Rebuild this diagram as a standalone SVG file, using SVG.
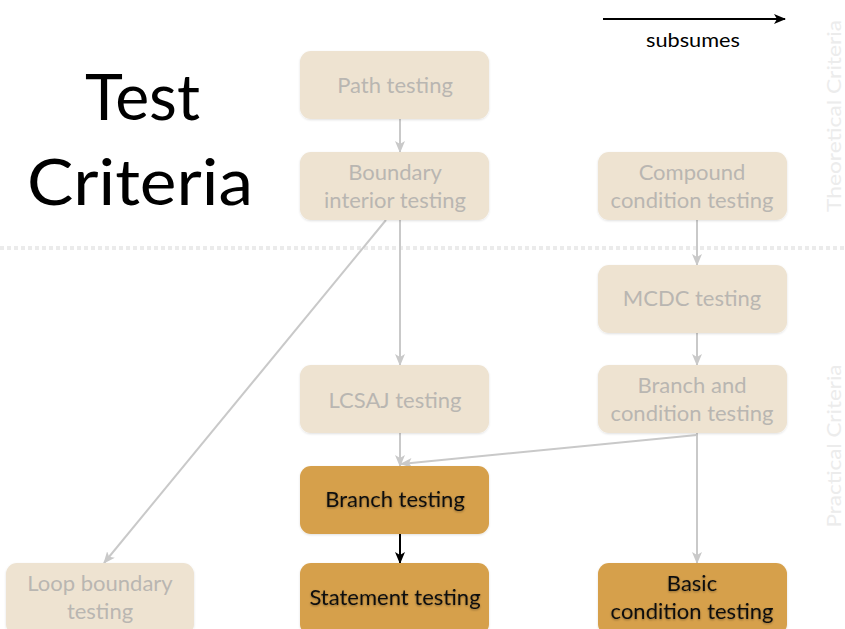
<svg xmlns="http://www.w3.org/2000/svg" width="845" height="629" viewBox="0 0 845 629">
  <defs>
    <style>
      .box { fill: #eee3d1; }
      .box-on { fill: #d6a04b; }
      .lbl { font-family: "Lato", "Open Sans", sans-serif; font-size: 22px; fill: #b9b6b1; text-anchor: middle; }
      .lbl-on { font-family: "Lato", "Open Sans", sans-serif; font-size: 22px; fill: #111; text-anchor: middle; }
      .edge { stroke: #c9c9c9; stroke-width: 2; fill: none; marker-end: url(#headGrey); }
      .edge-on { stroke: #000; stroke-width: 2; fill: none; marker-end: url(#headBlack); }
      .title { font-family: "Lato", "Open Sans", sans-serif; font-size: 64px; fill: #000; }
      .side { font-family: "Lato", "Open Sans", sans-serif; font-size: 20px; fill: #ececec; text-anchor: middle; }
    </style>
    <marker id="headGrey" viewBox="0 0 12 12" refX="11" refY="6" markerWidth="12" markerHeight="12" markerUnits="userSpaceOnUse" orient="auto">
      <path d="M0,1 L12,6 L0,11 L3,6 Z" fill="#c9c9c9"/>
    </marker>
    <marker id="headBlack" viewBox="0 0 12 12" refX="11" refY="6" markerWidth="12" markerHeight="12" markerUnits="userSpaceOnUse" orient="auto">
      <path d="M0,1 L12,6 L0,11 L3,6 Z" fill="#000"/>
    </marker>
    <filter id="soft" x="-5%" y="-5%" width="110%" height="115%">
      <feDropShadow dx="0" dy="1" stdDeviation="1" flood-color="#000" flood-opacity="0.12"/>
    </filter>
    <filter id="glow" x="-5%" y="-20%" width="110%" height="140%">
      <feDropShadow dx="0" dy="1" stdDeviation="1" flood-color="#000" flood-opacity="0.35"/>
    </filter>
  </defs>

  <rect width="845" height="629" fill="#fff"/>

  <!-- divider between theoretical and practical criteria -->
  <line x1="0" y1="248" x2="845" y2="248" stroke="#ebebeb" stroke-width="4" stroke-dasharray="4,3"/>

  <!-- side captions -->
  <text class="side" transform="translate(841,116) rotate(-90)" textLength="192" lengthAdjust="spacingAndGlyphs">Theoretical Criteria</text>
  <text class="side" transform="translate(841,446) rotate(-90)" textLength="163" lengthAdjust="spacingAndGlyphs">Practical Criteria</text>

  <!-- heading -->
  <text class="title" x="85" y="120" textLength="115" lengthAdjust="spacingAndGlyphs">Test</text>
  <text class="title" x="27" y="205" textLength="226" lengthAdjust="spacingAndGlyphs">Criteria</text>

  <!-- legend -->
  <g id="legend">
    <line x1="603" y1="19" x2="785" y2="19" stroke="#000" stroke-width="2" marker-end="url(#headBlack)"/>
    <text x="693" y="47" font-family="Lato, 'Open Sans', sans-serif" font-size="19" text-anchor="middle" fill="#000" textLength="94" lengthAdjust="spacingAndGlyphs">subsumes</text>
  </g>

  <!-- connectors -->
  <g id="connectors">
    <line class="edge" x1="400" y1="119" x2="400" y2="152"/>
    <line class="edge" x1="400" y1="220" x2="400" y2="365"/>
    <line class="edge" x1="386" y1="220" x2="104" y2="563"/>
    <line class="edge" x1="400" y1="433" x2="400" y2="466"/>
    <line class="edge" x1="697" y1="435" x2="401" y2="464"/>
    <line class="edge" x1="697" y1="220" x2="697" y2="265"/>
    <line class="edge" x1="697" y1="333" x2="697" y2="365"/>
    <line class="edge" x1="697" y1="433" x2="697" y2="563"/>
    <line class="edge-on" x1="400" y1="534" x2="400" y2="563"/>
  </g>

  <!-- nodes -->
  <g id="path-testing">
    <rect class="box" x="300" y="51" width="189" height="68" rx="11" filter="url(#soft)"/>
    <text class="lbl" x="395" y="93">Path testing</text>
  </g>
  <g id="boundary-interior">
    <rect class="box" x="300" y="152" width="189" height="68" rx="11" filter="url(#soft)"/>
    <text class="lbl" x="395" y="180">Boundary</text>
    <text class="lbl" x="395" y="208">interior testing</text>
  </g>
  <g id="compound-condition">
    <rect class="box" x="598" y="152" width="189" height="68" rx="11" filter="url(#soft)"/>
    <text class="lbl" x="692" y="180">Compound</text>
    <text class="lbl" x="692" y="208">condition testing</text>
  </g>
  <g id="mcdc">
    <rect class="box" x="598" y="265" width="189" height="68" rx="11" filter="url(#soft)"/>
    <text class="lbl" x="692" y="306">MCDC testing</text>
  </g>
  <g id="lcsaj">
    <rect class="box" x="300" y="365" width="189" height="68" rx="11" filter="url(#soft)"/>
    <text class="lbl" x="395" y="408">LCSAJ testing</text>
  </g>
  <g id="branch-and-condition">
    <rect class="box" x="598" y="365" width="189" height="68" rx="11" filter="url(#soft)"/>
    <text class="lbl" x="692" y="393">Branch and</text>
    <text class="lbl" x="692" y="421">condition testing</text>
  </g>
  <g id="branch">
    <rect class="box-on" x="300" y="466" width="189" height="68" rx="11" filter="url(#soft)"/>
    <text class="lbl-on" x="395" y="507" filter="url(#glow)">Branch testing</text>
  </g>
  <g id="loop-boundary">
    <rect class="box" x="6" y="563" width="188" height="72" rx="11" filter="url(#soft)"/>
    <text class="lbl" x="100" y="591">Loop boundary</text>
    <text class="lbl" x="100" y="619">testing</text>
  </g>
  <g id="statement">
    <rect class="box-on" x="300" y="563" width="189" height="72" rx="11" filter="url(#soft)"/>
    <text class="lbl-on" x="395" y="605" filter="url(#glow)">Statement testing</text>
  </g>
  <g id="basic-condition">
    <rect class="box-on" x="598" y="563" width="189" height="72" rx="11" filter="url(#soft)"/>
    <text class="lbl-on" x="692" y="591" filter="url(#glow)">Basic</text>
    <text class="lbl-on" x="692" y="619" filter="url(#glow)">condition testing</text>
  </g>
</svg>
